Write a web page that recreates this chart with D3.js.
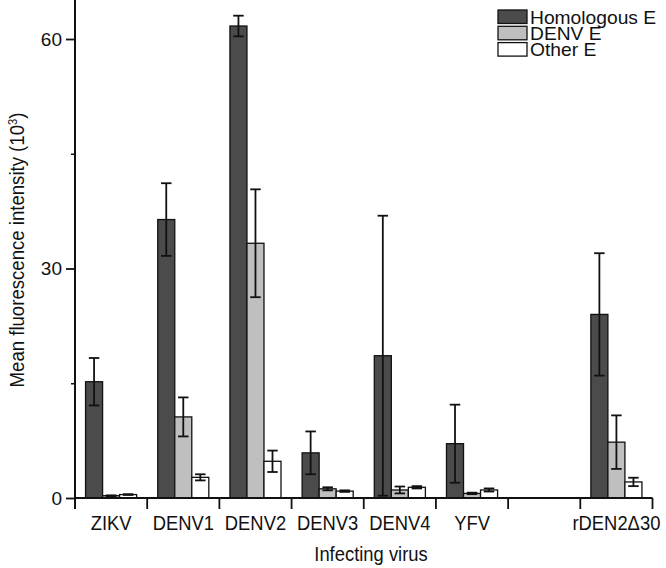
<!DOCTYPE html>
<html>
<head>
<meta charset="utf-8">
<script src="https://cdn.jsdelivr.net/npm/d3@7"></script>
<style>
  html, body { margin: 0; padding: 0; background: #fff; }
  svg { display: block; }
  text { font-family: "Liberation Sans", Arial, sans-serif; fill: #111; }
</style>
</head>
<body>
<svg id="chart" width="666" height="568"></svg>
<script>
// ---- data ----
const categories = ["ZIKV", "DENV1", "DENV2", "DENV3", "DENV4", "YFV", "", "rDEN2Δ30"];
const seriesNames = ["Homologous E", "DENV E", "Other E"];
const homologousE = [15.2, 36.4, 61.7, 5.9, 18.6, 7.1, null, 24.0];
const homologousErr = [3.1, 4.75, 1.35, 2.8, 18.3, 5.1, null, 8.0];
const denvE = [0.3, 10.6, 33.3, 1.2, 1.05, 0.6, null, 7.3];
const denvErr = [0.05, 2.55, 7.05, 0.2, 0.45, 0.1, null, 3.5];
const otherE = [0.45, 2.7, 4.8, 0.9, 1.4, 1.05, null, 2.1];
const otherErr = [0.05, 0.4, 1.4, 0.1, 0.15, 0.2, null, 0.55];
const yMajorTicks = [0, 30, 60];
const yMinorTicks = [15, 45];
const seriesColors = ["#4b4b4b", "#bfbfbf", "#ffffff"];

const values = [homologousE, denvE, otherE];
const errors = [homologousErr, denvErr, otherErr];

const svg = d3.select("#chart");
const x0 = 75, x1 = 652.5, yBase = 498;

const x = d3.scaleBand().domain(d3.range(categories.length)).range([x0, x1]).paddingInner(0).paddingOuter(0);
const xs = d3.scaleBand().domain(d3.range(seriesNames.length)).range([0, x.bandwidth()]).paddingInner(0).paddingOuter(0.62);
const y = d3.scaleLinear().domain([0, 65.1]).range([yBase, 0]);

// bars
const data = [];
categories.forEach((c, i) => {
  values.forEach((vals, s) => {
    if (vals[i] != null) data.push({ i, s, v: vals[i], e: errors[s][i] });
  });
});

const g = svg.append("g");
g.selectAll("rect.bar").data(data).join("rect")
  .attr("class", "bar")
  .attr("x", d => x(d.i) + xs(d.s))
  .attr("y", d => y(d.v))
  .attr("width", xs.bandwidth())
  .attr("height", d => y(0) - y(d.v))
  .attr("fill", d => seriesColors[d.s])
  .attr("stroke", "#111")
  .attr("stroke-width", 1.3);

// error bars
const capW = 10.5;
const cx = d => x(d.i) + xs(d.s) + xs.bandwidth() / 2;
const eb = g.selectAll("g.err").data(data).join("g").attr("class", "err")
  .attr("stroke", "#111").attr("stroke-width", 1.8).attr("fill", "none");
eb.append("line")
  .attr("x1", cx).attr("x2", cx)
  .attr("y1", d => y(d.v + d.e))
  .attr("y2", d => y(Math.max(0, d.v - d.e)));
eb.append("line")
  .attr("x1", d => cx(d) - capW / 2).attr("x2", d => cx(d) + capW / 2)
  .attr("y1", d => y(d.v + d.e)).attr("y2", d => y(d.v + d.e));
eb.append("line")
  .attr("x1", d => cx(d) - capW / 2).attr("x2", d => cx(d) + capW / 2)
  .attr("y1", d => y(Math.max(0, d.v - d.e))).attr("y2", d => y(Math.max(0, d.v - d.e)));

// y axis
const yAxis = svg.append("g").attr("transform", `translate(${x0},0)`);
yAxis.call(d3.axisLeft(y).tickValues(yMajorTicks).tickSize(9).tickPadding(4).tickFormat(d3.format("d")));
yAxis.select(".domain").remove();
yAxis.selectAll(".tick line").attr("stroke", "#111").attr("stroke-width", 1.8);
yAxis.selectAll(".tick text").style("font-size", "19px").attr("fill", "#111");
const yMinor = svg.append("g").attr("transform", `translate(${x0},0)`);
yMinor.call(d3.axisLeft(y).tickValues(yMinorTicks).tickSize(4).tickFormat(""));
yMinor.select(".domain").remove();
yMinor.selectAll(".tick line").attr("stroke", "#111").attr("stroke-width", 1.5);
svg.append("line").attr("x1", x0).attr("x2", x0).attr("y1", 0).attr("y2", yBase + 11)
  .attr("stroke", "#111").attr("stroke-width", 2);

// x axis
svg.append("line").attr("x1", x0).attr("x2", x1).attr("y1", yBase).attr("y2", yBase)
  .attr("stroke", "#111").attr("stroke-width", 2);
const boundaries = d3.range(categories.length + 1).map(k => x0 + k * x.step());
svg.selectAll("line.xtick").data(boundaries.slice(1)).join("line").attr("class", "xtick")
  .attr("x1", d => d).attr("x2", d => d).attr("y1", yBase).attr("y2", yBase + 11)
  .attr("stroke", "#111").attr("stroke-width", 1.8);
svg.selectAll("g.xlab").data(categories).join("g").attr("class", "xlab")
  .attr("transform", (d, i) => `translate(${x(i) + x.bandwidth() / 2},530) scale(0.92,1)`)
  .append("text").attr("text-anchor", "middle").style("font-size", "20px").text(d => d);

// axis titles
svg.append("g").attr("transform", "translate(371,561) scale(0.92,1)")
  .append("text").attr("text-anchor", "middle").style("font-size", "20px").text("Infecting virus");
const yt = svg.append("g").attr("transform", "translate(24,250) rotate(-90) scale(0.93,1)")
  .append("text").attr("text-anchor", "middle").style("font-size", "20px");
yt.append("tspan").text("Mean fluorescence intensity (10");
yt.append("tspan").attr("dy", -7).style("font-size", "12px").text("3");
yt.append("tspan").attr("dy", 7).text(")");

// legend
const legend = svg.append("g").attr("transform", "translate(498,10)");
const li = legend.selectAll("g").data(seriesNames).join("g")
  .attr("transform", (d, i) => `translate(0,${i * 16.3})`);
li.append("rect").attr("width", 29).attr("height", 13.5)
  .attr("fill", (d, i) => seriesColors[i]).attr("stroke", "#111").attr("stroke-width", 1.3);
li.append("g").attr("transform", "translate(32,13.5) scale(1.04,1)")
  .append("text").style("font-size", "18.5px").text(d => d);
</script>
</body>
</html>
